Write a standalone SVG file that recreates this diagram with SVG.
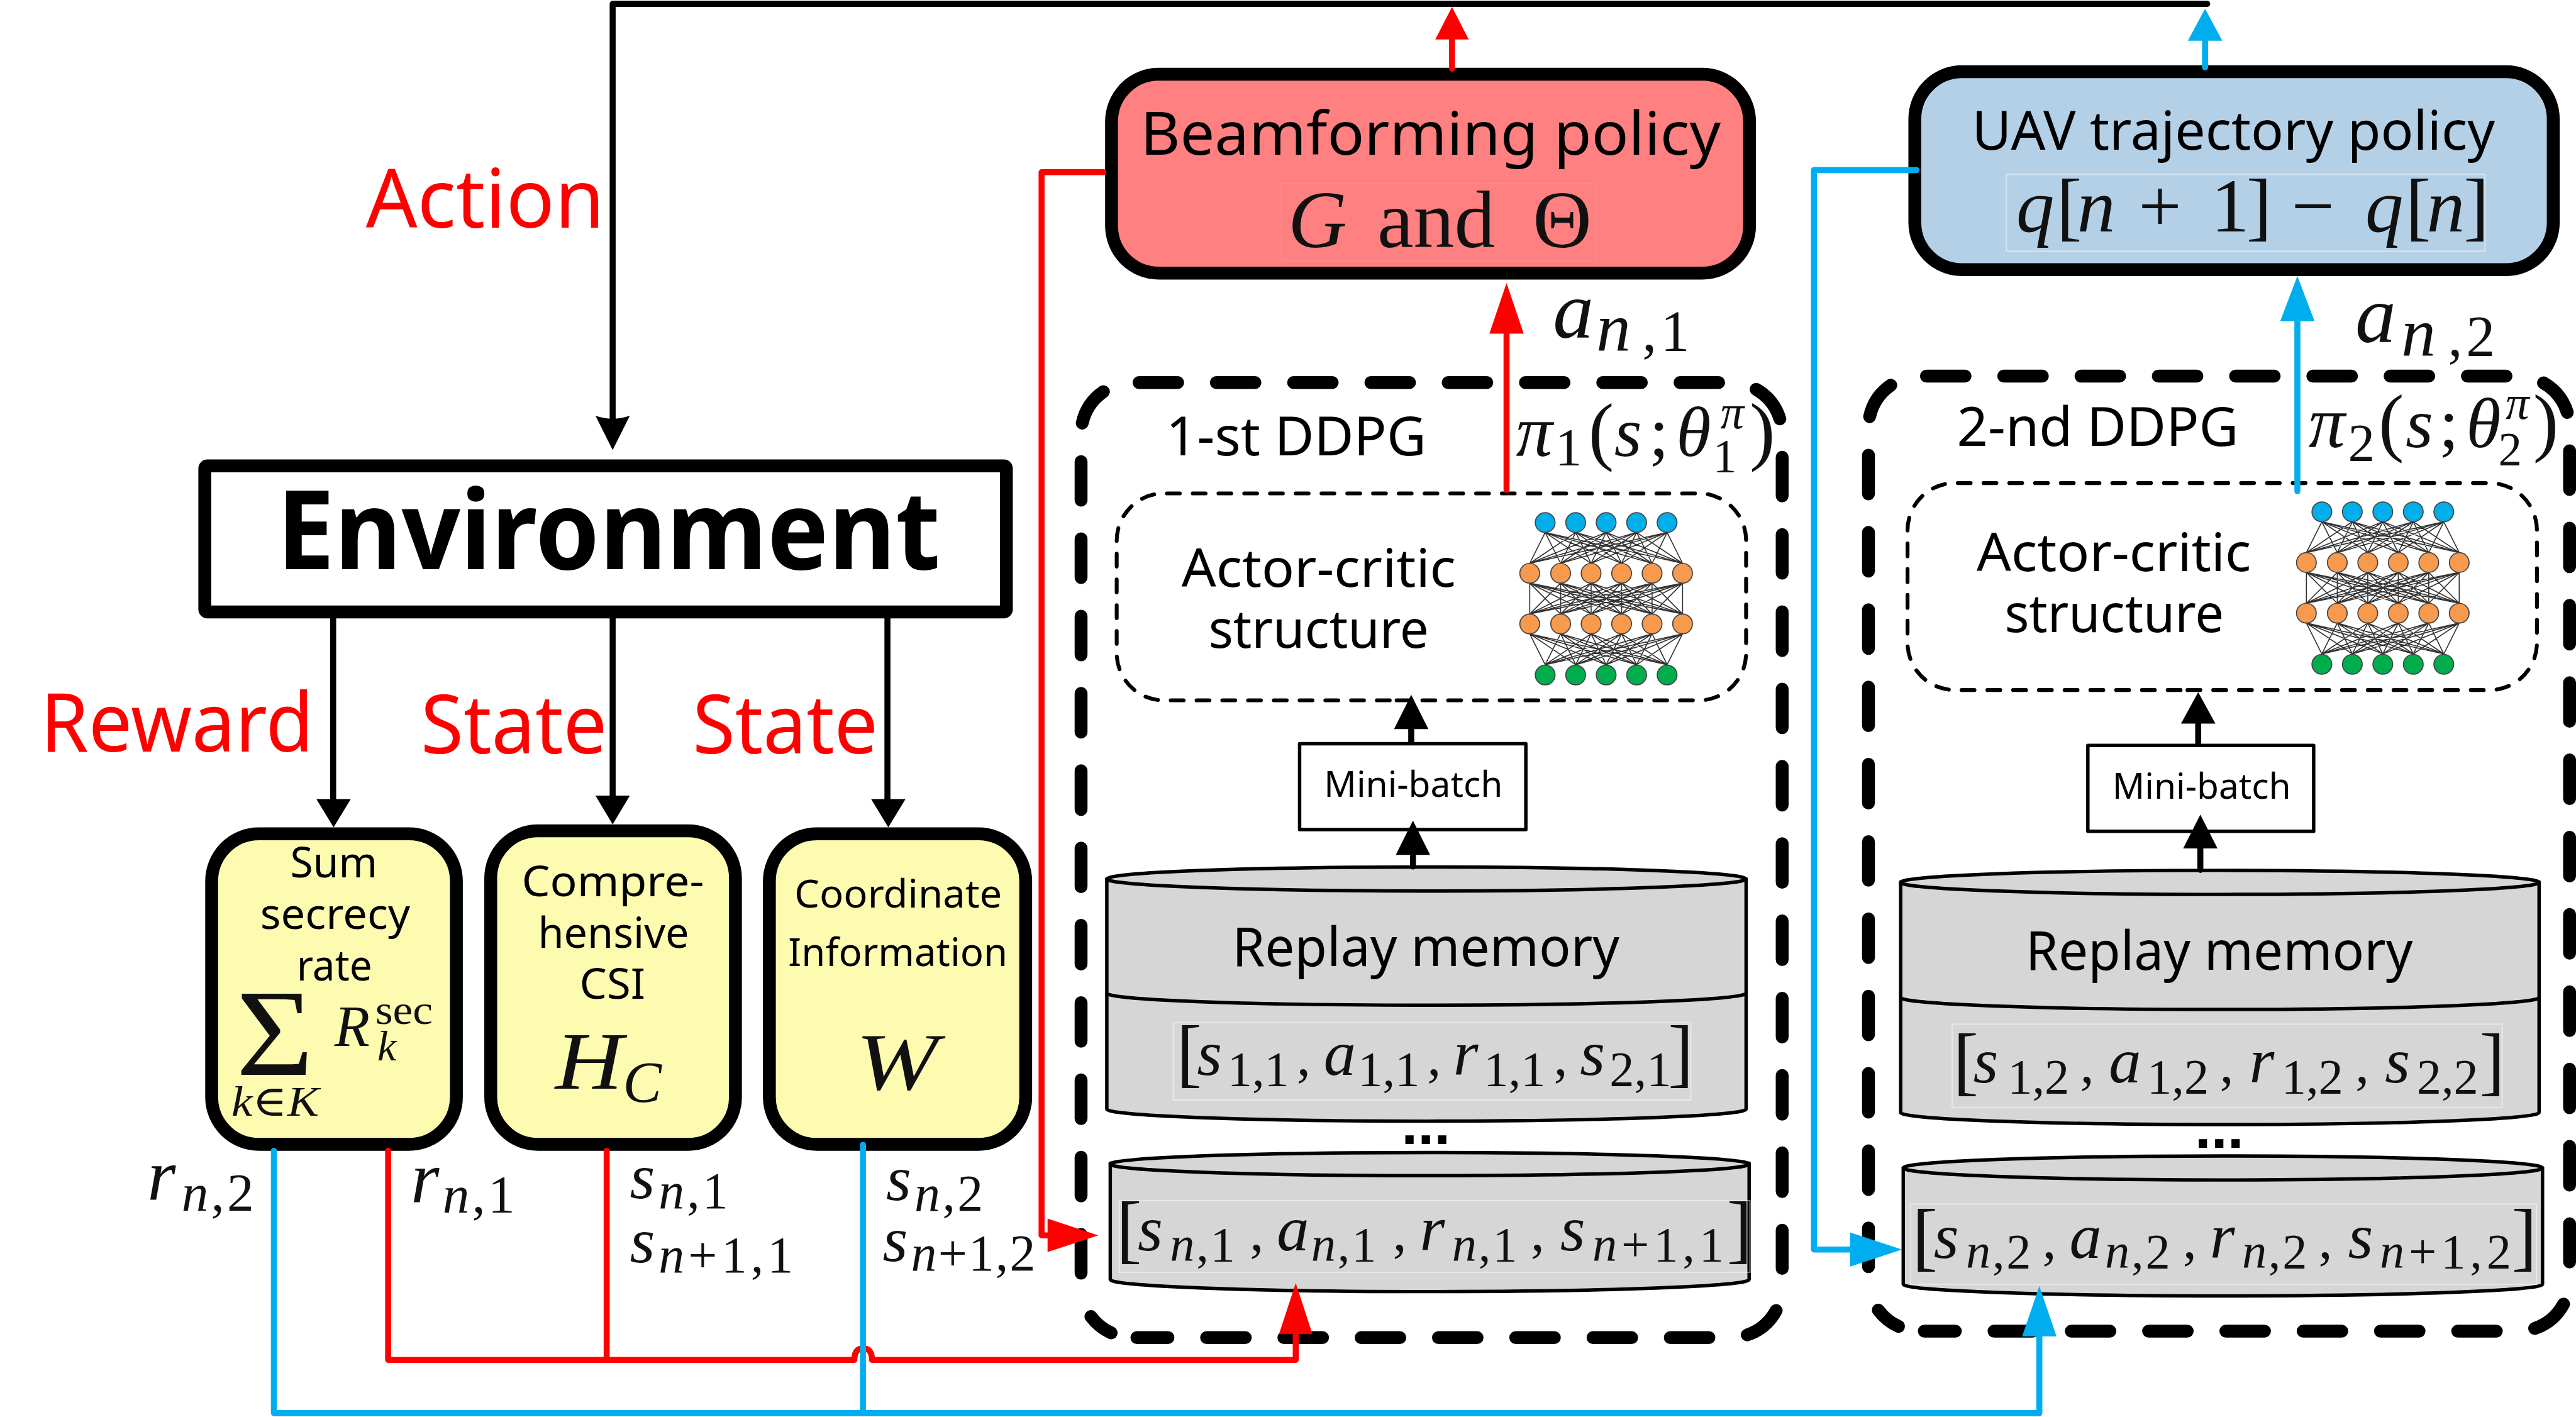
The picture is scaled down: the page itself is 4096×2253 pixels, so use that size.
<svg xmlns="http://www.w3.org/2000/svg" xmlns:xlink="http://www.w3.org/1999/xlink" width="4096" height="2253" viewBox="0 0 4096 2253">
<style>
.t{font-family:"Noto Sans","Open Sans","Liberation Sans",sans-serif;fill:#000}
.red{fill:#f00}
.m{font-family:"Liberation Serif","DejaVu Serif",serif;fill:#111}
.i{font-style:italic}
.rm{font-size:150px;font-style:italic}
.rs{font-size:115px;font-style:normal}
.rb{font-size:178px;font-style:normal}
.rc{font-size:130px;font-style:normal}
.wide{letter-spacing:10px}
.dots{font-family:"Liberation Sans",sans-serif;font-weight:700;font-size:137px;text-anchor:middle}
.outline{stroke:#000;stroke-width:30;stroke-linejoin:round}
.yellow{fill:#fcfbb0}
.bd{fill:none;stroke:#000;stroke-width:30;stroke-linecap:round;stroke-dasharray:90 90}
.bd0{fill:none;stroke:#000;stroke-width:30;stroke-linecap:round}
.id{fill:none;stroke:#000;stroke-width:9;stroke-linecap:round;stroke-dasharray:30 30}
.cyl{fill:#d6d6d6;stroke:#000;stroke-width:8;stroke-linejoin:round}
.arc{fill:none;stroke:#000;stroke-width:8}
.mini{fill:#fff;stroke:#000;stroke-width:8;stroke-linejoin:round}
.ghost{fill:none;stroke:#fff;stroke-opacity:.45;stroke-width:3}
.ghost2{fill:none;stroke:#fff;stroke-opacity:.08;stroke-width:3}
.edge{fill:none;stroke:#333;stroke-width:2.4}
.nc{stroke:#444;stroke-width:2.5}
.b{fill:#00aeea}.o{fill:#f79a4e}.g{fill:#00ad4d}
.lk{fill:none;stroke:#000;stroke-width:14;stroke-linecap:round;stroke-linejoin:round}
.lr{fill:none;stroke:#f00;stroke-width:14;stroke-linecap:round;stroke-linejoin:round}
.lb{fill:none;stroke:#00aeef;stroke-width:14;stroke-linecap:round;stroke-linejoin:round}
.hk{fill:#000}.hr{fill:#f00}.hb{fill:#00aeef}
</style>
<defs>
<g id="net">
<path class="edge" d="M36 23L0 95M36 23L72 95M36 23L143 95M36 23L214 95M36 23L285 95M36 23L356 95M107 23L0 95M107 23L72 95M107 23L143 95M107 23L214 95M107 23L285 95M107 23L356 95M178 23L0 95M178 23L72 95M178 23L143 95M178 23L214 95M178 23L285 95M178 23L356 95M249 23L0 95M249 23L72 95M249 23L143 95M249 23L214 95M249 23L285 95M249 23L356 95M320 23L0 95M320 23L72 95M320 23L143 95M320 23L214 95M320 23L285 95M320 23L356 95"/>
<path class="edge" d="M0 141L0 213M0 141L72 213M0 141L143 213M0 141L214 213M0 141L285 213M0 141L356 213M72 141L0 213M72 141L72 213M72 141L143 213M72 141L214 213M72 141L285 213M72 141L356 213M143 141L0 213M143 141L72 213M143 141L143 213M143 141L214 213M143 141L285 213M143 141L356 213M214 141L0 213M214 141L72 213M214 141L143 213M214 141L214 213M214 141L285 213M214 141L356 213M285 141L0 213M285 141L72 213M285 141L143 213M285 141L214 213M285 141L285 213M285 141L356 213M356 141L0 213M356 141L72 213M356 141L143 213M356 141L214 213M356 141L285 213M356 141L356 213"/>
<path class="edge" d="M0 259L36 331M0 259L107 331M0 259L178 331M0 259L249 331M0 259L320 331M72 259L36 331M72 259L107 331M72 259L178 331M72 259L249 331M72 259L320 331M143 259L36 331M143 259L107 331M143 259L178 331M143 259L249 331M143 259L320 331M214 259L36 331M214 259L107 331M214 259L178 331M214 259L249 331M214 259L320 331M285 259L36 331M285 259L107 331M285 259L178 331M285 259L249 331M285 259L320 331M356 259L36 331M356 259L107 331M356 259L178 331M356 259L249 331M356 259L320 331"/>
<g class="nc b"><circle cx="36" cy="0" r="23"/><circle cx="107" cy="0" r="23"/><circle cx="178" cy="0" r="23"/><circle cx="249" cy="0" r="23"/><circle cx="320" cy="0" r="23"/></g>
<g class="nc o"><circle cx="0" cy="118" r="23"/><circle cx="72" cy="118" r="23"/><circle cx="143" cy="118" r="23"/><circle cx="214" cy="118" r="23"/><circle cx="285" cy="118" r="23"/><circle cx="356" cy="118" r="23"/><circle cx="0" cy="236" r="23"/><circle cx="72" cy="236" r="23"/><circle cx="143" cy="236" r="23"/><circle cx="214" cy="236" r="23"/><circle cx="285" cy="236" r="23"/><circle cx="356" cy="236" r="23"/></g>
<g class="nc g"><circle cx="36" cy="355" r="23"/><circle cx="107" cy="355" r="23"/><circle cx="178" cy="355" r="23"/><circle cx="249" cy="355" r="23"/><circle cx="320" cy="355" r="23"/></g>
</g>
<g id="bigdash">
<path class="bd" d="M2653,891H4031A120 120 0 0 1 4151,1011V2954"/>
<path class="bd" d="M4137,3052A120 120 0 0 1 4031,3115H2648"/>
<path class="bd0" d="M2588,3104A120 120 0 0 1 2541,3066"/>
<path class="bd" d="M2518,2965V1011A120 120 0 0 1 2638,891"/>
</g>
<path id="innerdash" class="id" d="M3253,1631H3957A110 110 0 0 0 4067,1521V1259A110 110 0 0 0 3957,1149H2711A110 110 0 0 0 2601,1259V1521A110 110 0 0 0 2711,1631Z"/>
</defs>
<g transform="scale(0.68267,0.68273)">
<rect x="0" y="0" width="6000" height="3300" fill="#fff"/>

<g id="labels-left">
<text class="t red" x="852" y="530" font-size="190" textLength="556" lengthAdjust="spacingAndGlyphs">Action</text>
<text class="t red" x="94" y="1750" font-size="190" textLength="636" lengthAdjust="spacingAndGlyphs">Reward</text>
<text class="t red" x="980" y="1754" font-size="190" textLength="434" lengthAdjust="spacingAndGlyphs">State</text>
<text class="t red" x="1613" y="1754" font-size="190" textLength="432" lengthAdjust="spacingAndGlyphs">State</text>
</g>

<g id="environment">
<rect x="477" y="1085" width="1867" height="340" rx="6" fill="#fff" class="outline"/>
<text class="t" x="645" y="1325" font-size="255" font-weight="700" textLength="1545" lengthAdjust="spacingAndGlyphs">Environment</text>
</g>

<g id="sum-secrecy">
<rect x="493" y="1942" width="570" height="723" rx="110" class="yellow outline"/>
<text class="t" x="676" y="2044" font-size="100" textLength="203" lengthAdjust="spacingAndGlyphs">Sum</text>
<text class="t" x="606" y="2164" font-size="100" textLength="349" lengthAdjust="spacingAndGlyphs">secrecy</text>
<text class="t" x="691" y="2283" font-size="100" textLength="176" lengthAdjust="spacingAndGlyphs">rate</text>
<text class="m" x="550" y="2503" font-size="288" textLength="180" lengthAdjust="spacingAndGlyphs">Σ</text>
<text class="m i" x="779" y="2436" font-size="135">R</text>
<text class="m" x="874" y="2384" font-size="95" textLength="134" lengthAdjust="spacingAndGlyphs">sec</text>
<text class="m i" x="879" y="2470" font-size="100">k</text>
<text class="m" x="539" y="2599" font-size="100" textLength="204" lengthAdjust="spacingAndGlyphs"><tspan class="i">k</tspan>∈<tspan class="i">K</tspan></text>
</g>

<g id="csi">
<rect x="1143" y="1935" width="570" height="730" rx="110" class="yellow outline"/>
<text class="t" x="1215" y="2087" font-size="100" textLength="425" lengthAdjust="spacingAndGlyphs">Compre-</text>
<text class="t" x="1253" y="2207" font-size="100" textLength="352" lengthAdjust="spacingAndGlyphs">hensive</text>
<text class="t" x="1350" y="2326" font-size="100" textLength="153" lengthAdjust="spacingAndGlyphs">CSI</text>
<text class="m i" x="1293" y="2535" font-size="190" textLength="158" lengthAdjust="spacingAndGlyphs">H</text>
<text class="m i" x="1451" y="2566" font-size="135">C</text>
</g>

<g id="coordinate">
<rect x="1792" y="1942" width="597" height="723" rx="110" class="yellow outline"/>
<text class="t" x="1850" y="2114" font-size="92" textLength="484" lengthAdjust="spacingAndGlyphs">Coordinate</text>
<text class="t" x="1836" y="2250" font-size="92" textLength="511" lengthAdjust="spacingAndGlyphs">Information</text>
<text class="m i" x="1993" y="2537" font-size="190" textLength="192" lengthAdjust="spacingAndGlyphs">W</text>
</g>

<g id="state-labels">
<text class="m"><tspan class="i" font-size="170" x="343" y="2795">r</tspan><tspan font-size="125" letter-spacing="6" x="423" y="2819"><tspan class="i">n</tspan>,2</tspan></text>
<text class="m"><tspan class="i" font-size="170" x="957" y="2800">r</tspan><tspan font-size="125" letter-spacing="6" x="1031" y="2824"><tspan class="i">n</tspan>,1</tspan></text>
<text class="m"><tspan class="i" font-size="150" x="1467" y="2790">s</tspan><tspan font-size="120" letter-spacing="6" x="1534" y="2814"><tspan class="i">n</tspan>,1</tspan></text>
<text class="m"><tspan class="i" font-size="150" x="1467" y="2939">s</tspan><tspan font-size="120" letter-spacing="9" x="1534" y="2963"><tspan class="i">n</tspan>+1,1</tspan></text>
<text class="m"><tspan class="i" font-size="150" x="2064" y="2795">s</tspan><tspan font-size="120" letter-spacing="5" x="2130" y="2819"><tspan class="i">n</tspan>,2</tspan></text>
<text class="m"><tspan class="i" font-size="150" x="2056" y="2937">s</tspan><tspan font-size="120" letter-spacing="3" x="2122" y="2958"><tspan class="i">n</tspan>+1,2</tspan></text>
</g>

<g id="beamforming-policy">
<rect x="2589" y="173" width="1486" height="463" rx="110" fill="#ff8080" class="outline"/>
<rect x="2984" y="428" width="734" height="179" class="ghost2"/>
<text class="t" x="2656" y="361" font-size="140" textLength="1352" lengthAdjust="spacingAndGlyphs">Beamforming policy</text>
<text class="m" font-size="190" y="575"><tspan class="i" x="3000">G</tspan><tspan x="3208">and</tspan><tspan x="3570">Θ</tspan></text>
</g>

<g id="uav-trajectory-policy">
<rect x="4460" y="167" width="1487" height="461" rx="110" fill="#b4d0e7" class="outline"/>
<rect x="4673" y="406" width="1115" height="179" class="ghost"/>
<text class="t" x="4593" y="349" font-size="125" textLength="1218" lengthAdjust="spacingAndGlyphs">UAV trajectory policy</text>
<text class="m" font-size="178" y="539"><tspan class="i" x="4696">q</tspan><tspan x="4790">[</tspan><tspan class="i" x="4838">n</tspan><tspan x="4981">+</tspan><tspan x="5150">1</tspan><tspan x="5232">]</tspan><tspan x="5337">−</tspan><tspan class="i" x="5509">q</tspan><tspan x="5603">[</tspan><tspan class="i" x="5652">n</tspan><tspan x="5738">]</tspan></text>
</g>

<g id="ddpg-1">
<use href="#bigdash" xlink:href="#bigdash"/>
<use href="#innerdash" xlink:href="#innerdash"/>
<text class="t" x="2716" y="1060" font-size="125" textLength="606" lengthAdjust="spacingAndGlyphs">1-st DDPG</text>
<text class="m"><tspan class="i" font-size="170" x="3531" y="1062">π</tspan><tspan font-size="125" x="3622" y="1084">1</tspan><tspan font-size="178" x="3700" y="1062">(</tspan><tspan class="i" font-size="165" x="3760" y="1062">s</tspan><tspan font-size="165" x="3841" y="1062">;</tspan><tspan class="i" font-size="165" x="3904" y="1062">θ</tspan><tspan class="i" font-size="110" x="4007" y="997">π</tspan><tspan font-size="110" x="3990" y="1100">1</tspan><tspan font-size="178" x="4075" y="1062">)</tspan></text>
<text class="t" x="2752" y="1366" font-size="122" textLength="639" lengthAdjust="spacingAndGlyphs">Actor-critic</text>
<text class="t" x="2815" y="1509" font-size="122" textLength="513" lengthAdjust="spacingAndGlyphs">structure</text>
<use href="#net" xlink:href="#net" x="3563" y="1217"/>
<rect x="3027" y="1732" width="527" height="200" class="mini"/>
<text class="t" x="3084" y="1856" font-size="84" textLength="416" lengthAdjust="spacingAndGlyphs">Mini-batch</text>
<path class="cyl" d="M2578,2047V2583A744.5 28 0 0 0 4067,2583V2047Z"/>
<ellipse cx="3322.5" cy="2047" rx="744.5" ry="28" class="cyl"/>
<path class="arc" d="M2578,2313A744.5 28 0 0 0 4067,2313"/>
<text class="t" x="2870" y="2250" font-size="125" textLength="902" lengthAdjust="spacingAndGlyphs">Replay memory</text>
<rect x="2733" y="2381" width="1205" height="181" class="ghost"/>
<text class="m"><tspan class="rb" x="2740" y="2511">[</tspan><tspan class="rm" x="2788" y="2503">s</tspan><tspan class="rs" x="2859" y="2528">1,1</tspan><tspan class="rc" x="3020" y="2503">,</tspan><tspan class="rm" x="3083" y="2503">a</tspan><tspan class="rs" x="3163" y="2528">1,1</tspan><tspan class="rc" x="3324" y="2503">,</tspan><tspan class="rm" x="3385" y="2503">r</tspan><tspan class="rs" x="3456" y="2528">1,1</tspan><tspan class="rc" x="3619" y="2503">,</tspan><tspan class="rm" x="3680" y="2503">s</tspan><tspan class="rs" x="3749" y="2528">2,1</tspan><tspan class="rb" x="3885" y="2511">]</tspan></text>
<text class="dots" x="3321" y="2665">...</text>
<path class="cyl" d="M2586,2709V2980A744 28 0 0 0 4074,2980V2709Z"/>
<ellipse cx="3330" cy="2711" rx="744" ry="27" class="cyl"/>
<rect x="2607" y="2796" width="1469" height="167" class="ghost"/>
<text class="m"><tspan class="rb" x="2600" y="2920">[</tspan><tspan class="rm" x="2650" y="2912">s</tspan><tspan class="rs" letter-spacing="4" x="2725" y="2937"><tspan class="i">n</tspan>,1</tspan><tspan class="rc" x="2911" y="2912">,</tspan><tspan class="rm" x="2974" y="2912">a</tspan><tspan class="rs" letter-spacing="4" x="3054" y="2937"><tspan class="i">n</tspan>,1</tspan><tspan class="rc" x="3244" y="2912">,</tspan><tspan class="rm" x="3307" y="2912">r</tspan><tspan class="rs" letter-spacing="4" x="3382" y="2937"><tspan class="i">n</tspan>,1</tspan><tspan class="rc" x="3565" y="2912">,</tspan><tspan class="rm" x="3634" y="2912">s</tspan><tspan class="rs wide" x="3709" y="2937"><tspan class="i">n</tspan>+1,1</tspan><tspan class="rb" x="4022" y="2920">]</tspan></text>
</g>

<g id="ddpg-2">
<use href="#bigdash" xlink:href="#bigdash" transform="translate(1834,-15)"/>
<use href="#innerdash" xlink:href="#innerdash" transform="translate(1842,-24)"/>
<text class="t" x="4558" y="1038" font-size="125" textLength="656" lengthAdjust="spacingAndGlyphs">2-nd DDPG</text>
<text class="m"><tspan class="i" font-size="170" x="5377" y="1041">π</tspan><tspan font-size="125" x="5469" y="1073">2</tspan><tspan font-size="178" x="5540" y="1041">(</tspan><tspan class="i" font-size="165" x="5603" y="1041">s</tspan><tspan font-size="165" x="5681" y="1041">;</tspan><tspan class="i" font-size="165" x="5744" y="1041">θ</tspan><tspan class="i" font-size="110" x="5836" y="976">π</tspan><tspan font-size="110" x="5819" y="1084">2</tspan><tspan font-size="178" x="5900" y="1041">)</tspan></text>
<text class="t" x="4604" y="1330" font-size="122" textLength="639" lengthAdjust="spacingAndGlyphs">Actor-critic</text>
<text class="t" x="4669" y="1472" font-size="122" textLength="511" lengthAdjust="spacingAndGlyphs">structure</text>
<use href="#net" xlink:href="#net" x="5372" y="1192"/>
<rect x="4863" y="1736" width="526" height="200" class="mini"/>
<text class="t" x="4920" y="1860" font-size="84" textLength="416" lengthAdjust="spacingAndGlyphs">Mini-batch</text>
<path class="cyl" d="M4427,2054V2591A743.5 28 0 0 0 5914,2591V2054Z"/>
<ellipse cx="5170.5" cy="2055" rx="743.5" ry="28" class="cyl"/>
<path class="arc" d="M4427,2323A743.5 28 0 0 0 5914,2323"/>
<text class="t" x="4718" y="2259" font-size="125" textLength="902" lengthAdjust="spacingAndGlyphs">Replay memory</text>
<rect x="4547" y="2385" width="1281" height="194" class="ghost"/>
<text class="m"><tspan class="rb" x="4549" y="2529">[</tspan><tspan class="rm" x="4596" y="2521">s</tspan><tspan class="rs" x="4676" y="2546">1,2</tspan><tspan class="rc" x="4845" y="2521">,</tspan><tspan class="rm" x="4912" y="2521">a</tspan><tspan class="rs" x="5001" y="2546">1,2</tspan><tspan class="rc" x="5170" y="2521">,</tspan><tspan class="rm" x="5239" y="2521">r</tspan><tspan class="rs" x="5314" y="2546">1,2</tspan><tspan class="rc" x="5486" y="2521">,</tspan><tspan class="rm" x="5555" y="2521">s</tspan><tspan class="rs" x="5629" y="2546">2,2</tspan><tspan class="rb" x="5775" y="2529">]</tspan></text>
<text class="dots" x="5169" y="2673">...</text>
<path class="cyl" d="M4433,2720V2991A744.5 27 0 0 0 5922,2991V2720Z"/>
<ellipse cx="5177.5" cy="2720" rx="744.5" ry="28" class="cyl"/>
<rect x="4450" y="2804" width="1458" height="187" class="ghost"/>
<text class="m"><tspan class="rb" x="4454" y="2938">[</tspan><tspan class="rm" x="4504" y="2930">s</tspan><tspan class="rs" letter-spacing="4" x="4579" y="2953"><tspan class="i">n</tspan>,2</tspan><tspan class="rc" x="4757" y="2930">,</tspan><tspan class="rm" x="4820" y="2930">a</tspan><tspan class="rs" letter-spacing="4" x="4903" y="2953"><tspan class="i">n</tspan>,2</tspan><tspan class="rc" x="5084" y="2930">,</tspan><tspan class="rm" x="5147" y="2930">r</tspan><tspan class="rs" letter-spacing="4" x="5222" y="2953"><tspan class="i">n</tspan>,2</tspan><tspan class="rc" x="5400" y="2930">,</tspan><tspan class="rm" x="5469" y="2930">s</tspan><tspan class="rs wide" x="5543" y="2953"><tspan class="i">n</tspan>+1,2</tspan><tspan class="rb" x="5850" y="2938">]</tspan></text>
</g>

<g id="action-labels">
<text class="m"><tspan class="i" font-size="190" x="3617" y="786">a</tspan><tspan class="i" font-size="160" x="3718" y="818">n</tspan><tspan font-size="135" x="3825" y="818">,</tspan><tspan font-size="135" x="3868" y="818">1</tspan></text>
<text class="m"><tspan class="i" font-size="190" x="5486" y="797">a</tspan><tspan class="i" font-size="160" x="5593" y="829">n</tspan><tspan font-size="135" x="5702" y="829">,</tspan><tspan font-size="135" x="5744" y="829">2</tspan></text>
</g>

<g id="connectors">
<path class="lk" d="M5141,9H1427V975"/>
<path class="hk" d="M1387,968Q1427,982 1467,968L1427,1048Z"/>
<path class="lk" d="M776,1427V1870M1427,1427V1860M2067,1427V1870"/>
<path class="hk" d="M737,1861H817L777,1927Z"/>
<path class="hk" d="M1387,1853H1467L1427,1920Z"/>
<path class="hk" d="M2029,1861H2109L2069,1927Z"/>
<path class="lr" d="M904,2680V3167H1990Q1990,3140 2010,3140Q2031,3140 2031,3167H3018V3100"/>
<path class="lr" d="M1413,2680V3167"/>
<path class="hr" d="M2979,3107H3057L3018,2988Z"/>
<path class="lb" d="M638,2680V3291H4750V3105"/>
<path class="lb" d="M2010,2666V3291"/>
<path class="hb" d="M4710,3112H4790L4750,2995Z"/>
<path class="lr" d="M2570,401H2426V2877H2445"/>
<path class="hr" d="M2440,2838V2916L2558,2877Z"/>
<path class="lb" d="M4464,396H4225V2910H4315"/>
<path class="hb" d="M4309,2870V2950L4430,2910Z"/>
<path class="lr" d="M3382,160V85"/>
<path class="hr" d="M3343,92H3421L3382,16Z"/>
<path class="lb" d="M5136,157V90"/>
<path class="hb" d="M5096,95H5176L5136,20Z"/>
<path class="lr" d="M3509,1141V770"/>
<path class="hr" d="M3469,777H3549L3509,659Z"/>
<path class="lb" d="M5351,1144V740"/>
<path class="hb" d="M5311,748H5391L5351,643Z"/>
<path class="lk" d="M3287,1728V1690"/>
<path class="hk" d="M3247,1698H3327L3287,1618Z"/>
<path class="lk" d="M3291,2018V1985"/>
<path class="hk" d="M3251,1991H3331L3291,1911Z"/>
<path class="lk" d="M5120,1730V1680"/>
<path class="hk" d="M5080,1685H5160L5120,1612Z"/>
<path class="lk" d="M5125,2026V1970"/>
<path class="hk" d="M5085,1976H5165L5125,1897Z"/>
</g>
</g>
</svg>
